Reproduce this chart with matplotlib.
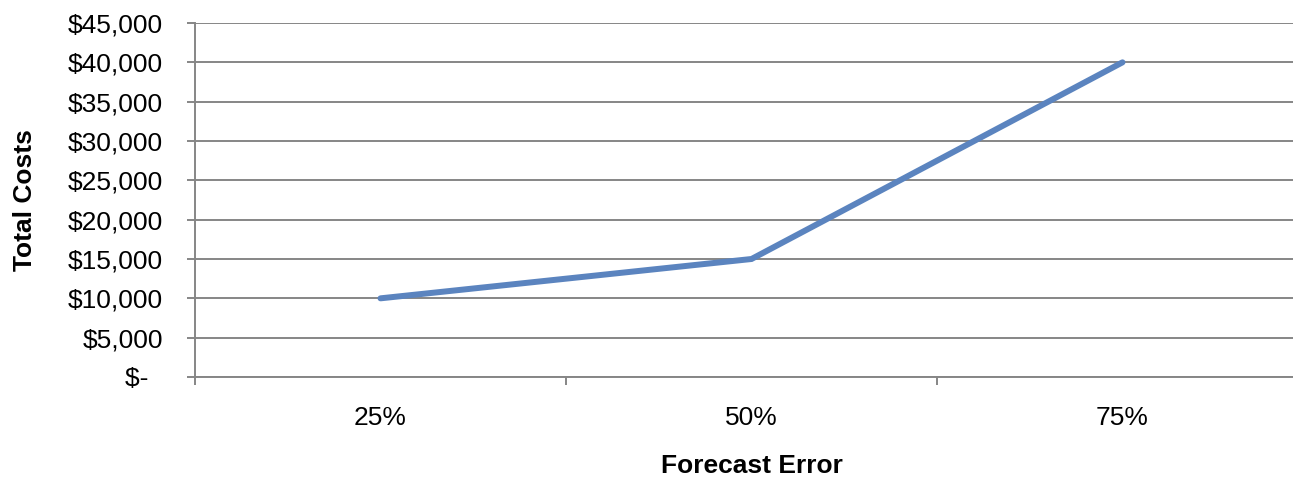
import numpy as np
import matplotlib
matplotlib.use("Agg")
import matplotlib.pyplot as plt
from matplotlib.ticker import FixedLocator, FuncFormatter

categories = ["25%", "50%", "75%"]
total_costs = [10000, 15000, 40000]
y_ticks = [0, 5000, 10000, 15000, 20000, 25000, 30000, 35000, 40000, 45000]

plt.rcParams["font.family"] = ["Liberation Sans", "DejaVu Sans"]
grey = "#868686"


def money(v, pos=None):
    if v == 0:
        return "$-  "
    return "${:,.0f}".format(v)


fig = plt.figure(figsize=(12.93, 4.78), dpi=100)
ax = fig.add_axes([195 / 1293, 1 - 377 / 478, 1113 / 1293, 354 / 478])

x = np.arange(len(categories))
ax.plot(x, total_costs, color="#5B84BF", lw=4.3, solid_capstyle="round",
        solid_joinstyle="miter", zorder=3)

ax.set_xlim(-0.5, len(categories) - 0.5)
ax.set_ylim(0, 45000)

# category boundaries get the tick marks, labels sit in between
ax.xaxis.set_major_locator(FixedLocator(np.arange(len(categories) + 1) - 0.5))
ax.xaxis.set_major_formatter(FuncFormatter(lambda v, p: ""))
ax.xaxis.set_minor_locator(FixedLocator(x))
ax.set_xticklabels(categories, minor=True)
ax.tick_params(axis="x", which="major", length=6, width=1.4, color=grey)
ax.tick_params(axis="x", which="minor", length=0, pad=21, labelsize=19)

ax.yaxis.set_major_locator(FixedLocator(y_ticks))
ax.yaxis.set_major_formatter(FuncFormatter(money))
ax.tick_params(axis="y", length=6, width=1.4, color=grey, pad=17, labelsize=19)

ax.grid(axis="y", color=grey, lw=1.4, zorder=1)
ax.set_axisbelow(True)
for s in ["top", "right"]:
    ax.spines[s].set_visible(False)
for s in ["left", "bottom"]:
    ax.spines[s].set_color(grey)
    ax.spines[s].set_linewidth(1.4)

fig.text(752 / 1293, 1 - 466 / 478, "Forecast Error", ha="center", va="center",
         fontsize=19, fontweight="bold")
fig.text(25 / 1293, 1 - 200 / 478, "Total Costs", ha="center", va="center",
         rotation=90, fontsize=19, fontweight="bold")

fig.savefig("out.png", dpi=100)
